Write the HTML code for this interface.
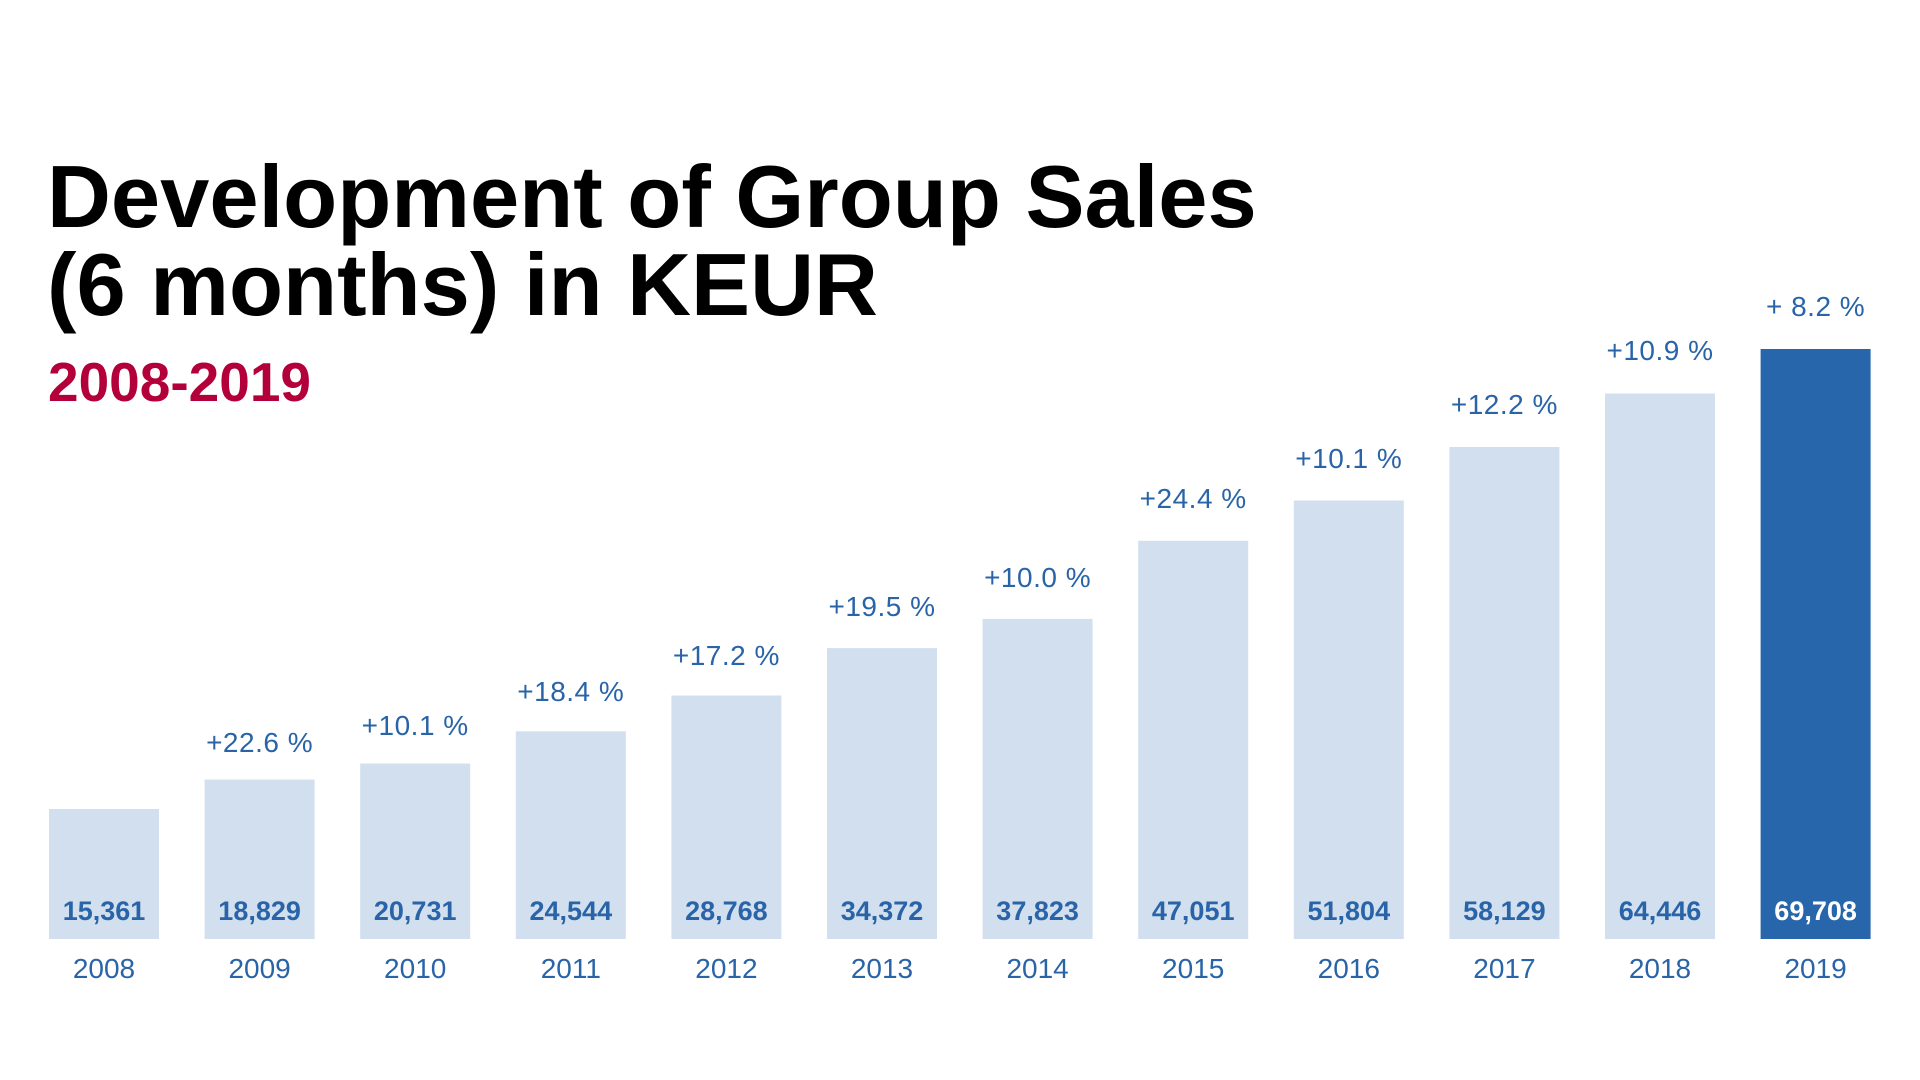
<!DOCTYPE html>
<html><head><meta charset="utf-8"><style>
html,body{margin:0;padding:0;background:#fff;}
svg{display:block}
</style></head><body>
<svg width="1920" height="1080" xmlns="http://www.w3.org/2000/svg" font-family="'Liberation Sans', Arial, sans-serif">
<rect width="1920" height="1080" fill="#fff"/>
<text x="47" y="227" font-size="88.5" font-weight="bold" fill="#000">Development of Group Sales</text>
<text x="47" y="315" font-size="88.5" font-weight="bold" fill="#000">(6 months) in KEUR</text>
<text x="48" y="401" font-size="55" font-weight="bold" fill="#b3003a">2008-2019</text>
<g fill="#d2dfee">
<rect x="49" y="809" width="110" height="130"/>
<rect x="204.6" y="779.6" width="110" height="159.4"/>
<rect x="360.2" y="763.5" width="110" height="175.5"/>
<rect x="515.8" y="731.3" width="110" height="207.7"/>
<rect x="671.4" y="695.5" width="110" height="243.5"/>
<rect x="827" y="648.1" width="110" height="290.9"/>
<rect x="982.6" y="618.9" width="110" height="320.1"/>
<rect x="1138.2" y="540.8" width="110" height="398.2"/>
<rect x="1293.8" y="500.5" width="110" height="438.5"/>
<rect x="1449.4" y="447" width="110" height="492"/>
<rect x="1605" y="393.5" width="110" height="545.5"/>
</g>
<rect x="1760.6" y="349" width="110" height="590" fill="#2766ab"/>
<g font-size="27" font-weight="bold" text-anchor="middle" fill="#2a64a8">
<text x="104" y="920">15,361</text>
<text x="259.6" y="920">18,829</text>
<text x="415.2" y="920">20,731</text>
<text x="570.8" y="920">24,544</text>
<text x="726.4" y="920">28,768</text>
<text x="882" y="920">34,372</text>
<text x="1037.6" y="920">37,823</text>
<text x="1193.2" y="920">47,051</text>
<text x="1348.8" y="920">51,804</text>
<text x="1504.4" y="920">58,129</text>
<text x="1660" y="920">64,446</text>
<text x="1815.6" y="920" fill="#fff">69,708</text>
</g>
<g font-size="28" text-anchor="middle" fill="#2a64a8">
<text x="104" y="978">2008</text>
<text x="259.6" y="978">2009</text>
<text x="415.2" y="978">2010</text>
<text x="570.8" y="978">2011</text>
<text x="726.4" y="978">2012</text>
<text x="882" y="978">2013</text>
<text x="1037.6" y="978">2014</text>
<text x="1193.2" y="978">2015</text>
<text x="1348.8" y="978">2016</text>
<text x="1504.4" y="978">2017</text>
<text x="1660" y="978">2018</text>
<text x="1815.6" y="978">2019</text>
</g>
<g font-size="28" text-anchor="middle" fill="#2a64a8" letter-spacing="0.5">
<text x="259.6" y="752">+22.6 %</text>
<text x="415.2" y="735">+10.1 %</text>
<text x="570.8" y="701">+18.4 %</text>
<text x="726.4" y="665">+17.2 %</text>
<text x="882" y="616">+19.5 %</text>
<text x="1037.6" y="587">+10.0 %</text>
<text x="1193.2" y="508">+24.4 %</text>
<text x="1348.8" y="468">+10.1 %</text>
<text x="1504.4" y="414">+12.2 %</text>
<text x="1660" y="360">+10.9 %</text>
<text x="1815.6" y="316">+ 8.2 %</text>
</g>
</svg>
</body></html>
